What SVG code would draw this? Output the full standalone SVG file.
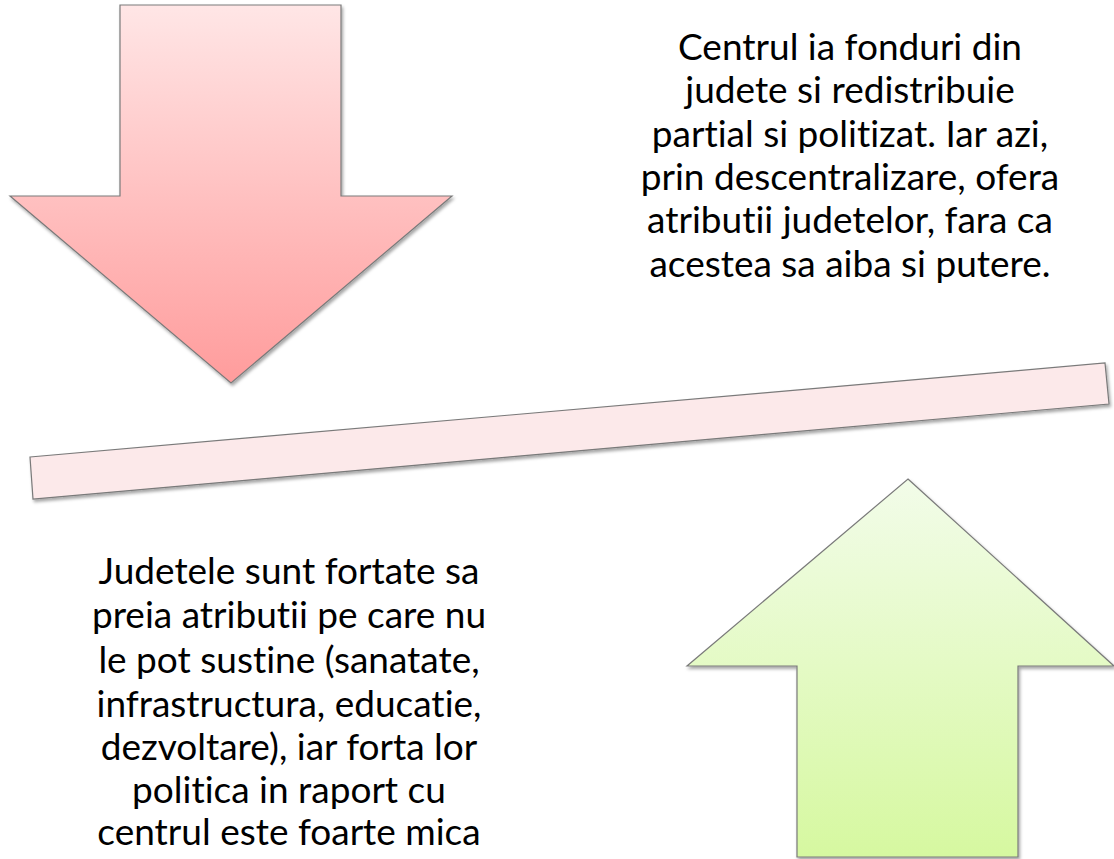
<svg xmlns="http://www.w3.org/2000/svg" width="1114" height="859" viewBox="0 0 1114 859">
<style>
.shape{stroke:#7a7a7a;stroke-width:1.2;filter:url(#sh)}
.txt{font-family:Lato,"Open Sans","Liberation Sans",sans-serif;font-size:37px;fill:#000;text-anchor:middle;font-variant-ligatures:none;font-feature-settings:"liga" 0,"clig" 0}
</style>
<defs>
<linearGradient id="gRed" x1="0" y1="0" x2="0" y2="1">
<stop offset="0" stop-color="#ffe6e6"/>
<stop offset="1" stop-color="#ff9c9c"/>
</linearGradient>
<linearGradient id="gGreen" x1="0" y1="0" x2="0" y2="1">
<stop offset="0" stop-color="#f2fce9"/>
<stop offset="1" stop-color="#d6f8a0"/>
</linearGradient>
<filter id="sh" x="-10%" y="-10%" width="120%" height="130%">
<feDropShadow dx="1.5" dy="2.5" stdDeviation="1.8" flood-color="#000" flood-opacity="0.35"/>
</filter>
</defs>
<rect width="1114" height="859" fill="#fff"/>
<g id="arrow-down">
<path class="shape" fill="url(#gRed)" d="M120,5 L341,5 L341,196 L452,196 L231,383 L10,196 L120,196 Z"/>
</g>
<g id="beam">
<path class="shape" fill="#fce9ea" d="M30,457 L1105,363 L1109,404 L33,499 Z"/>
</g>
<g id="arrow-up">
<path class="shape" fill="url(#gGreen)" d="M908,479 L1114,666 L1018,666 L1018,857 L797,857 L797,666 L687,666 Z"/>
</g>
<g id="text-top">
<text class="txt" x="850" y="60">Centrul ia fonduri din</text>
<text class="txt" x="850" y="103">judete si redistribuie</text>
<text class="txt" x="850" y="147">partial si politizat. Iar azi,</text>
<text class="txt" x="850" y="190">prin descentralizare, ofera</text>
<text class="txt" x="850" y="233">atributii judetelor, fara ca</text>
<text class="txt" x="850" y="277">acestea sa aiba si putere.</text>
</g>
<g id="text-bottom">
<text class="txt" x="289" y="584">Judetele sunt fortate sa</text>
<text class="txt" x="289" y="628">preia atributii pe care nu</text>
<text class="txt" x="289" y="673">le pot sustine (sanatate,</text>
<text class="txt" x="289" y="717">infrastructura, educatie,</text>
<text class="txt" x="289" y="760">dezvoltare), iar forta lor</text>
<text class="txt" x="289" y="803">politica in raport cu</text>
<text class="txt" x="289" y="845">centrul este foarte mica</text>
</g>
</svg>
